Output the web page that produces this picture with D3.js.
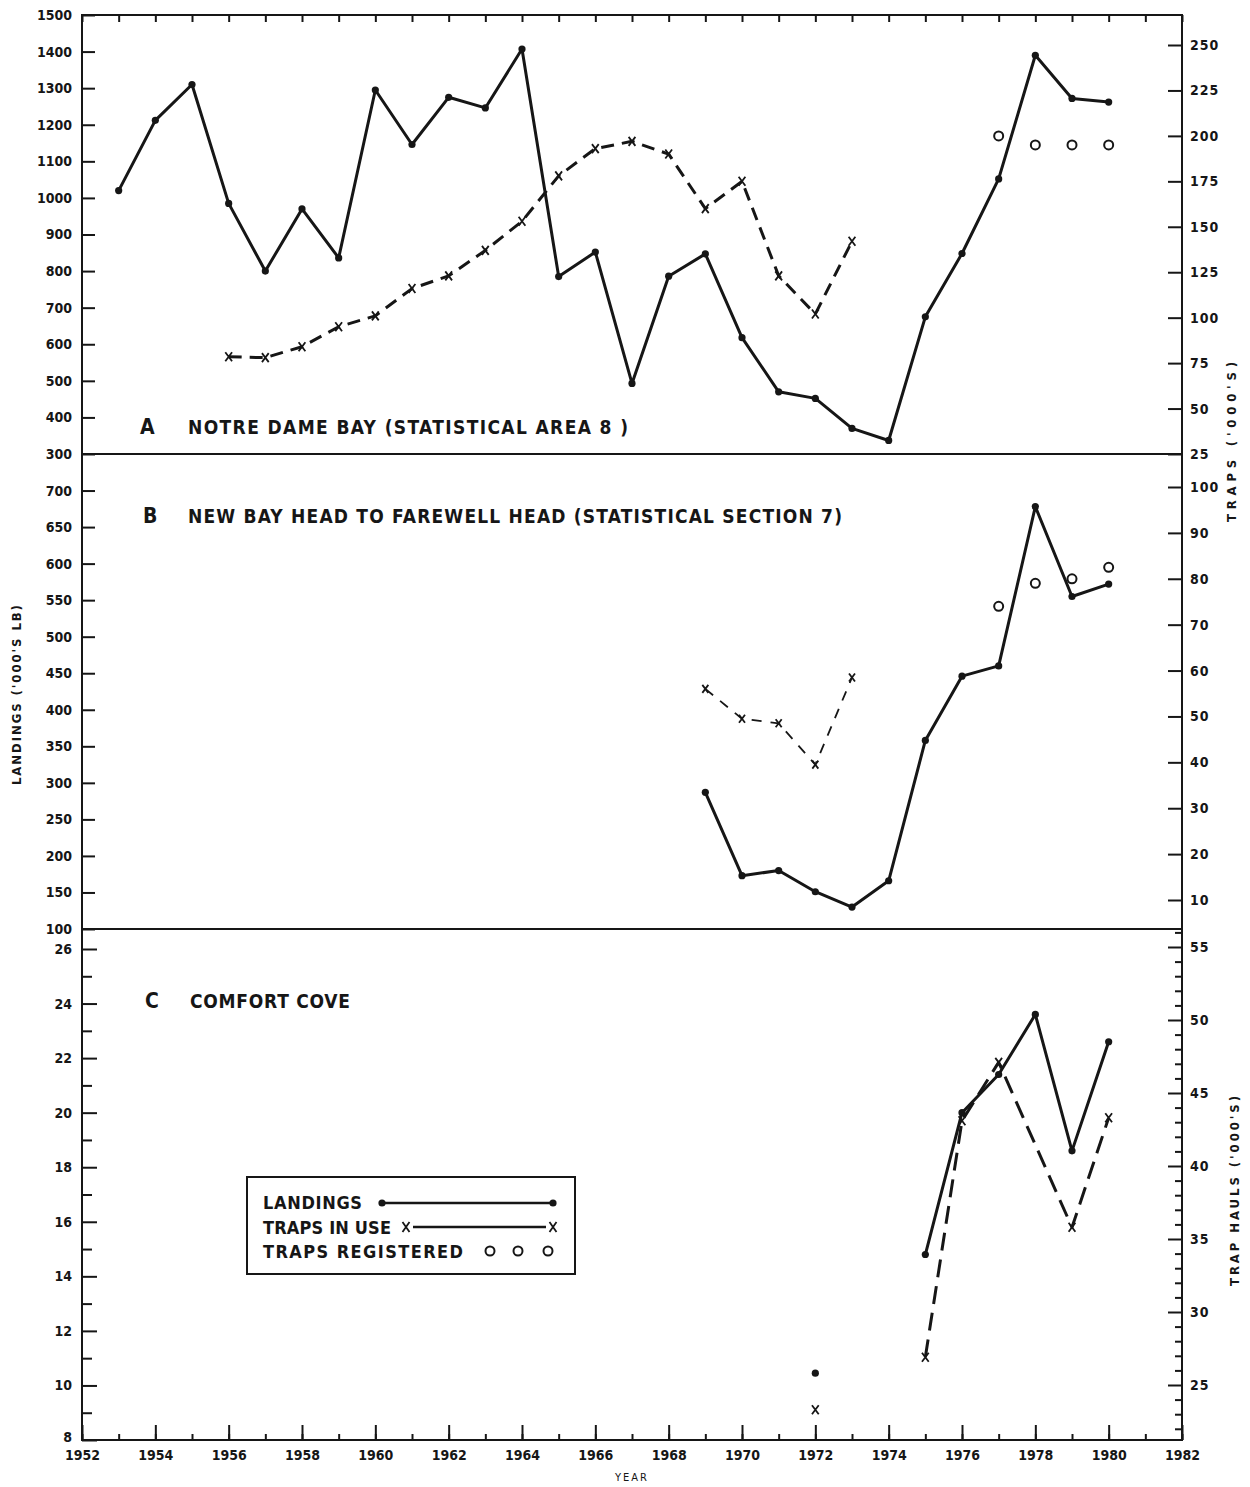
<!DOCTYPE html>
<html>
<head>
<meta charset="utf-8">
<script src="https://cdn.jsdelivr.net/npm/d3@7"></script>
<style>
  body { margin: 0; background: #fff; }
  svg { display: block; }
  text { font-family: "DejaVu Sans Condensed", "DejaVu Sans", sans-serif; fill: #161616; }
</style>
</head>
<body>
<svg id="chart" width="1250" height="1487"></svg>
<script>
// ---------- data ----------
// A: Notre Dame Bay (statistical area 8)
const yearsA = [1953, 1954, 1955, 1956, 1957, 1958, 1959, 1960, 1961, 1962, 1963, 1964, 1965, 1966,
                1967, 1968, 1969, 1970, 1971, 1972, 1973, 1974, 1975, 1976, 1977, 1978, 1979, 1980];
const landingsA = [1020, 1212, 1310, 985, 800, 970, 836, 1295, 1146, 1275, 1246, 1407, 785, 852,
                   493, 786, 847, 618, 470, 452, 370, 337, 675, 848, 1052, 1390, 1272, 1262];
const trapYearsA = [1956, 1957, 1958, 1959, 1960, 1961, 1962, 1963, 1964, 1965, 1966, 1967, 1968,
                    1969, 1970, 1971, 1972, 1973];
const trapsInUseA = [78.5, 78, 84, 95, 101, 116, 123, 137, 153, 178, 193, 197, 190, 160, 175, 123, 102, 142];
const regYears = [1977, 1978, 1979, 1980];
const trapsRegA = [200, 195, 195, 195];

// B: New Bay Head to Farewell Head (statistical section 7)
const yearsB = [1969, 1970, 1971, 1972, 1973, 1974, 1975, 1976, 1977, 1978, 1979, 1980];
const landingsB = [287, 173, 180, 151, 130, 166, 358, 446, 460, 678, 555, 572];
const trapYearsB = [1969, 1970, 1971, 1972, 1973];
const trapsInUseB = [56, 49.5, 48.5, 39.5, 58.5];
const trapsRegB = [74, 79, 80, 82.5];

// C: Comfort Cove — one stray 1972 record, then the 1975-80 run (no hauls for 1978)
const yearsC = [1975, 1976, 1977, 1978, 1979, 1980];
const landingsC = [14.8, 20.0, 21.4, 23.6, 18.6, 22.6];
const haulYearsC = [1975, 1976, 1977, 1979, 1980];
const trapHaulsC = [26.9, 43.1, 47.1, 35.8, 43.3];
const strayYearC = [1972];
const strayLandingsC = [10.45];
const strayHaulsC = [23.3];

// ---------- tick values ----------
const yearTicks = [1952, 1953, 1954, 1955, 1956, 1957, 1958, 1959, 1960, 1961, 1962, 1963, 1964, 1965, 1966,
                   1967, 1968, 1969, 1970, 1971, 1972, 1973, 1974, 1975, 1976, 1977, 1978, 1979, 1980, 1981, 1982];
const yearLabels = [1952, 1954, 1956, 1958, 1960, 1962, 1964, 1966, 1968, 1970, 1972, 1974, 1976, 1978, 1980, 1982];
const leftTicksA = [300, 400, 500, 600, 700, 800, 900, 1000, 1100, 1200, 1300, 1400, 1500];
const rightTicksA = [25, 50, 75, 100, 125, 150, 175, 200, 225, 250];
const leftTicksB = [100, 150, 200, 250, 300, 350, 400, 450, 500, 550, 600, 650, 700];
const rightTicksB = [10, 20, 30, 40, 50, 60, 70, 80, 90, 100];
const leftTicksC = [8, 10, 12, 14, 16, 18, 20, 22, 24, 26];
const leftMinorC = [9, 11, 13, 15, 17, 19, 21, 23, 25];
const rightTicksC = [25, 30, 35, 40, 45, 50, 55];
const rightMinorC = [22, 23, 24, 26, 27, 28, 29, 31, 32, 33, 34, 36, 37, 38, 39, 41, 42, 43, 44,
                     46, 47, 48, 49, 51, 52, 53, 54, 56];

// ---------- scales ----------
const ink = "#161616";
const svg = d3.select("#chart");

const x = d3.scaleLinear().domain([1952, 1982]).range([82, 1182]);

const yA = d3.scaleLinear().domain([300, 1500]).range([454, 15]);
const yAr = d3.scaleLinear().domain([25, 250]).range([454, 45]);
const yB = d3.scaleLinear().domain([100, 750]).range([929, 454]);
const yBr = d3.scaleLinear().domain([10, 100]).range([900, 487]);
const yC = d3.scaleLinear().domain([8, 26]).range([1440, 949]);
const yCr = d3.scaleLinear().domain([25, 55]).range([1385, 947]);

const frameTop = yA(1500), frameBottom = yC(8);
const frameLeft = x(1952), frameRight = x(1982);

// ---------- frame and panel separators ----------
const frame = svg.append("g").attr("stroke", ink).attr("stroke-width", 2).attr("fill", "none");
frame.append("rect").attr("x", frameLeft).attr("y", frameTop)
  .attr("width", frameRight - frameLeft).attr("height", frameBottom - frameTop);
frame.append("line").attr("x1", frameLeft).attr("x2", frameRight).attr("y1", yA(300)).attr("y2", yA(300));
frame.append("line").attr("x1", frameLeft).attr("x2", frameRight).attr("y1", yB(100)).attr("y2", yB(100));

// ---------- axes ----------
function styleAxis(g, size) {
  g.select(".domain").remove();
  g.selectAll(".tick line").attr("stroke", ink).attr("stroke-width", 2);
  g.selectAll(".tick text")
    .attr("font-family", "'DejaVu Sans', sans-serif")
    .attr("font-weight", "bold")
    .attr("font-size", size)
    .attr("fill", ink);
  g.attr("font-family", null).attr("font-size", null);
}

function leftAxis(scale, ticks, len) {
  const g = svg.append("g").attr("transform", `translate(${frameLeft},0)`)
    .call(d3.axisLeft(scale).tickValues(ticks).tickSize(-len).tickPadding(10).tickFormat(d3.format("d")));
  styleAxis(g, 14);
  return g;
}
function rightAxis(scale, ticks, len) {
  const g = svg.append("g").attr("transform", `translate(${frameRight},0)`)
    .call(d3.axisRight(scale).tickValues(ticks).tickSize(-len).tickPadding(8).tickFormat(d3.format("d")));
  styleAxis(g, 14);
  g.selectAll(".tick text").attr("letter-spacing", 1);
  return g;
}
function minorTicks(g) { g.selectAll(".tick text").remove(); }

leftAxis(yA, leftTicksA, 13);
rightAxis(yAr, rightTicksA, 14);
leftAxis(yB, leftTicksB, 13);
rightAxis(yBr, rightTicksB, 14);
const leftC = leftAxis(yC, leftTicksC, 15);
// lift the lowest label clear of the year labels
leftC.selectAll(".tick text").filter(d => d === 8).attr("dy", "0.1em");
minorTicks(leftAxis(yC, leftMinorC, 10));
rightAxis(yCr, rightTicksC, 14);
minorTicks(rightAxis(yCr, rightMinorC, 7));

// top of panel A: a short tick at every year
const topAxis = svg.append("g").attr("transform", `translate(0,${frameTop})`)
  .call(d3.axisTop(x).tickValues(yearTicks).tickSize(-7).tickFormat(""));
styleAxis(topAxis, 12);

// year axis along the bottom: long ticks on even years, short on odd
const bottomMinor = svg.append("g").attr("transform", `translate(0,${frameBottom})`)
  .call(d3.axisBottom(x).tickValues(yearTicks).tickSize(-6).tickFormat(""));
styleAxis(bottomMinor, 12);
const bottomMajor = svg.append("g").attr("transform", `translate(0,${frameBottom})`)
  .call(d3.axisBottom(x).tickValues(yearLabels).tickSize(-15).tickPadding(6).tickFormat(d3.format("d")));
styleAxis(bottomMajor, 14);
bottomMajor.selectAll(".tick text")
  .attr("font-family", "'DejaVu Sans Condensed', sans-serif")
  .attr("y", 10);

// ---------- marks ----------
const pairs = (ts, vs) => ts.map((t, i) => ({ t, v: vs[i] }));

function drawMarkers(pts, yScale, kind, size) {
  if (kind === "dot") {
    svg.append("g").selectAll("circle").data(pts).join("circle")
      .attr("cx", d => x(d.t)).attr("cy", d => yScale(d.v)).attr("r", 3.6).attr("fill", ink);
  } else {
    const s = size || 4.5;
    svg.append("g").selectAll("path").data(pts).join("path")
      .attr("d", d => {
        const cx = x(d.t), cy = yScale(d.v);
        return `M${cx - s * 0.75},${cy - s}L${cx + s * 0.75},${cy + s}M${cx + s * 0.75},${cy - s}L${cx - s * 0.75},${cy + s}`;
      })
      .attr("stroke", ink).attr("stroke-width", 1.8).attr("fill", "none");
  }
}

function drawSeries(data, yScale, opts) {
  const line = d3.line().x(d => x(d.t)).y(d => yScale(d.v));
  svg.append("path").datum(data)
    .attr("d", line)
    .attr("fill", "none")
    .attr("stroke", ink)
    .attr("stroke-width", opts.width)
    .attr("stroke-dasharray", opts.dash || null)
    .attr("stroke-linejoin", "round");
  drawMarkers(data, yScale, opts.marker, opts.crossSize);
}

function drawRegistered(ts, vs, yScale) {
  svg.append("g").selectAll("circle").data(pairs(ts, vs)).join("circle")
    .attr("cx", d => x(d.t)).attr("cy", d => yScale(d.v)).attr("r", 4.5)
    .attr("fill", "#fff").attr("stroke", ink).attr("stroke-width", 2);
}

// Panel A
drawSeries(pairs(trapYearsA, trapsInUseA), yAr, { width: 3, dash: "13,8", marker: "cross" });
drawSeries(pairs(yearsA, landingsA), yA, { width: 3, marker: "dot" });
drawRegistered(regYears, trapsRegA, yAr);

// Panel B
drawSeries(pairs(trapYearsB, trapsInUseB), yBr, { width: 1.8, dash: "10,9", marker: "cross", crossSize: 4 });
drawSeries(pairs(yearsB, landingsB), yB, { width: 3, marker: "dot" });
drawRegistered(regYears, trapsRegB, yBr);

// Panel C
drawSeries(pairs(haulYearsC, trapHaulsC), yCr, { width: 3, dash: "18,9", marker: "cross" });
drawSeries(pairs(yearsC, landingsC), yC, { width: 3, marker: "dot" });
drawMarkers(pairs(strayYearC, strayLandingsC), yC, "dot");
drawMarkers(pairs(strayYearC, strayHaulsC), yCr, "cross");

// ---------- panel titles ----------
function title(letter, label, lx, tx, tlen, y) {
  svg.append("text").attr("x", lx).attr("y", y).attr("font-size", 21).attr("font-weight", "bold").text(letter);
  svg.append("text").attr("x", tx).attr("y", y).attr("font-size", 19).attr("font-weight", "bold")
    .attr("textLength", tlen).attr("lengthAdjust", "spacing").text(label);
}
title("A", "NOTRE DAME BAY (STATISTICAL AREA 8 )", 140, 188, 440, 434);
title("B", "NEW BAY HEAD TO FAREWELL HEAD (STATISTICAL SECTION 7)", 143, 188, 654, 523);
title("C", "COMFORT COVE", 145, 190, 160, 1008);

// ---------- axis titles ----------
function vTitle(label, cx, cy, len) {
  svg.append("text").attr("transform", `translate(${cx},${cy}) rotate(-90)`)
    .attr("text-anchor", "middle").attr("font-size", 13).attr("font-weight", "bold")
    .attr("textLength", len).attr("lengthAdjust", "spacing").text(label);
}
vTitle("LANDINGS ('000'S LB)", 21, 695, 180);
vTitle("TRAPS ('000'S)", 1236, 442, 160);
vTitle("TRAP HAULS ('000'S)", 1239, 1191, 190);

svg.append("text").attr("x", x(1967)).attr("y", 1481).attr("text-anchor", "middle")
  .attr("font-size", 11).attr("letter-spacing", 2).text("YEAR");

// ---------- legend ----------
const lg = svg.append("g");
lg.append("rect").attr("x", 247).attr("y", 1177).attr("width", 328).attr("height", 97)
  .attr("fill", "#fff").attr("stroke", ink).attr("stroke-width", 2);
const legendText = (t, y, len) => lg.append("text").attr("x", 263).attr("y", y + 7)
  .attr("font-size", 18).attr("font-weight", "bold")
  .attr("textLength", len).attr("lengthAdjust", "spacing").text(t);
legendText("LANDINGS", 1202, 99);
legendText("TRAPS IN USE", 1227, 128);
legendText("TRAPS REGISTERED", 1251, 200);

lg.append("line").attr("x1", 382).attr("x2", 553).attr("y1", 1203).attr("y2", 1203)
  .attr("stroke", ink).attr("stroke-width", 2.5);
lg.selectAll("circle.ld").data([382, 553]).join("circle").attr("class", "ld")
  .attr("cx", d => d).attr("cy", 1203).attr("r", 3.6).attr("fill", ink);

lg.append("line").attr("x1", 413).attr("x2", 546).attr("y1", 1227).attr("y2", 1227)
  .attr("stroke", ink).attr("stroke-width", 2.5);
lg.selectAll("path.cx").data([406, 553]).join("path").attr("class", "cx")
  .attr("d", d => `M${d - 3.5},${1222}L${d + 3.5},${1232}M${d + 3.5},${1222}L${d - 3.5},${1232}`)
  .attr("stroke", ink).attr("stroke-width", 1.8);

lg.selectAll("circle.rg").data([490, 518, 548]).join("circle").attr("class", "rg")
  .attr("cx", d => d).attr("cy", 1251).attr("r", 4.5)
  .attr("fill", "#fff").attr("stroke", ink).attr("stroke-width", 2);
</script>
</body>
</html>
